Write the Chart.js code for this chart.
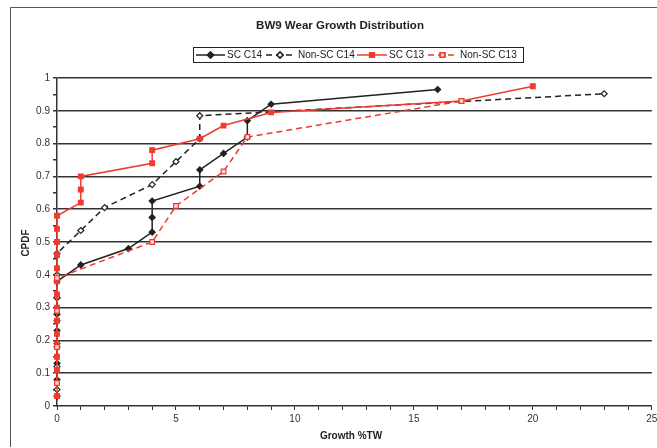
<!DOCTYPE html>
<html>
<head>
<meta charset="utf-8">
<script src="https://cdn.jsdelivr.net/npm/chart.js@4/dist/chart.umd.min.js"></script>
<style>
  html, body { margin: 0; padding: 0; background: #fff; }
  canvas { display: block; }
</style>
</head>
<body>
<canvas id="wearChart" width="657" height="448"></canvas>
<script>
// Datos (Growth %TW vs CPDF)
const scC14X = [0, 0, 0, 0, 0, 0, 0, 0, 1, 3, 4, 4, 4, 6, 6, 7, 8, 8, 9, 16];
const scC14Y = [0.03, 0.08, 0.13, 0.18, 0.23, 0.28, 0.33, 0.38, 0.43, 0.48, 0.53, 0.575, 0.625, 0.67, 0.72, 0.77, 0.82, 0.87, 0.92, 0.965];

const nonScC14X = [0, 0, 0, 0, 0, 0, 0, 1, 2, 4, 5, 6, 6, 23];
const nonScC14Y = [0.05, 0.12, 0.19, 0.26, 0.33, 0.40, 0.465, 0.535, 0.605, 0.675, 0.745, 0.815, 0.885, 0.952];

const scC13X = [0, 0, 0, 0, 0, 0, 0, 0, 0, 0, 0, 0, 0, 0, 0, 1, 1, 1, 4, 4, 6, 7, 9, 17, 20];
const scC13Y = [0.03, 0.07, 0.11, 0.15, 0.19, 0.22, 0.26, 0.30, 0.34, 0.38, 0.42, 0.46, 0.50, 0.54, 0.58, 0.62, 0.66, 0.70, 0.74, 0.78, 0.815, 0.855, 0.895, 0.93, 0.975];

const nonScC13X = [0, 0, 0, 0, 4, 5, 7, 8, 17];
const nonScC13Y = [0.07, 0.18, 0.29, 0.39, 0.50, 0.61, 0.715, 0.82, 0.93];

const titleText = "BW9 Wear Growth Distribution";
const xTitle = "Growth %TW";
const yTitle = "CPDF";

const BLACK = "#222222";
const RED = "#ef3b2f";
const FONT = "'Liberation Sans', Arial, sans-serif";

function toPoints(xs, ys) {
    return xs.map((x, i) => ({ x: x, y: ys[i] }));
}

const series = [
    { label: "SC C14", xs: scC14X, ys: scC14Y, color: BLACK, dash: [], style: "rectRot", radius: 3, fill: BLACK, order: 4 },
    { label: "Non-SC C14", xs: nonScC14X, ys: nonScC14Y, color: BLACK, dash: [6, 4], style: "rectRot", radius: 3, fill: "#ffffff", order: 3 },
    { label: "SC C13", xs: scC13X, ys: scC13Y, color: RED, dash: [], style: "rect", radius: 3.3, fill: RED, order: 2 },
    { label: "Non-SC C13", xs: nonScC13X, ys: nonScC13Y, color: RED, dash: [6, 4], style: "rect", radius: 3.3, fill: "#ffd6d2", order: 1 }
];

// Titulo, leyenda y etiquetas de ejes dibujados a mano
const decorPlugin = {
    id: "decor",
    afterDraw(chart) {
        const c = chart.ctx;
        c.save();

        // marco exterior
        c.strokeStyle = "#555";
        c.lineWidth = 1;
        c.beginPath();
        c.moveTo(10.5, 447);
        c.lineTo(10.5, 7.5);
        c.lineTo(657, 7.5);
        c.stroke();

        c.fillStyle = "#222";
        c.textAlign = "center";
        c.textBaseline = "middle";
        c.font = "bold 11.5px " + FONT;
        c.fillText(titleText, 340, 26);

        c.font = "bold 10px " + FONT;
        c.fillText(xTitle, 351, 436);
        c.save();
        c.translate(26, 243);
        c.rotate(-Math.PI / 2);
        c.fillText(yTitle, 0, 0);
        c.restore();

        // leyenda
        c.strokeStyle = "#222";
        c.lineWidth = 1;
        c.strokeRect(193.5, 47.5, 330, 15);
        const ly = 55;
        const items = [
            { s: series[0], x1: 196, x2: 225, tx: 227 },
            { s: series[1], x1: 266, x2: 294, tx: 298 },
            { s: series[2], x1: 357, x2: 387, tx: 389 },
            { s: series[3], x1: 428, x2: 457, tx: 460 }
        ];
        items.forEach(it => {
            c.strokeStyle = it.s.color;
            c.lineWidth = 1.5;
            c.setLineDash(it.s.dash);
            c.beginPath();
            c.moveTo(it.x1, ly);
            c.lineTo(it.x2, ly);
            c.stroke();
            c.setLineDash([]);
            Chart.helpers.drawPoint(c, {
                pointStyle: it.s.style,
                radius: it.s.radius,
                rotation: 0,
                borderWidth: 1.3
            }, (it.x1 + it.x2) / 2, ly);
            c.fillStyle = it.s.fill;
            c.strokeStyle = it.s.color;
            c.fill();
            c.stroke();
            c.fillStyle = "#222";
            c.textAlign = "left";
            c.font = "10px " + FONT;
            c.fillText(it.s.label, it.tx, ly + 0.5);
        });
        c.restore();
    }
};

new Chart(document.getElementById("wearChart"), {
    type: "scatter",
    data: {
        datasets: series.map(s => ({
            label: s.label,
            data: toPoints(s.xs, s.ys),
            showLine: true,
            borderColor: s.color,
            borderWidth: 1.5,
            borderDash: s.dash,
            pointStyle: s.style,
            pointRadius: s.radius,
            pointBackgroundColor: s.fill,
            pointBorderColor: s.color,
            pointBorderWidth: 1.2,
            order: s.order,
            clip: 8
        }))
    },
    options: {
        responsive: false,
        animation: false,
        layout: { padding: { top: 78, right: 0, left: 0, bottom: 0 } },
        plugins: {
            legend: { display: false },
            title: { display: false },
            tooltip: { enabled: false }
        },
        scales: {
            x: {
                type: "linear",
                min: 0,
                max: 25,
                ticks: {
                    stepSize: 1,
                    autoSkip: false,
                    maxRotation: 0,
                    color: "#333",
                    font: { family: FONT, size: 10 },
                    callback: v => (v % 5 === 0 ? String(v) : "")
                },
                grid: { drawOnChartArea: false, tickLength: 4, color: "#333", tickColor: "#333" },
                border: { color: "#333", width: 1.5 },
                afterFit: s => { s.height = 42; s.paddingRight = 3; }
            },
            y: {
                min: 0,
                max: 1,
                ticks: {
                    stepSize: 0.05,
                    autoSkip: false,
                    color: "#333",
                    font: { family: FONT, size: 10 },
                    callback: v => {
                        const r = Math.round(v * 100);
                        return r % 10 === 0 ? String(r / 100) : "";
                    }
                },
                grid: {
                    tickLength: 4,
                    tickColor: "#333",
                    lineWidth: 1.5,
                    color: ctx => {
                        const r = Math.round(ctx.tick.value * 100);
                        return (r % 10 === 0 && r > 0) ? "#333333" : "rgba(0,0,0,0)";
                    }
                },
                border: { color: "#333", width: 1.5 },
                afterFit: s => { s.width = 57; }
            }
        }
    },
    plugins: [decorPlugin]
});
</script>
</body>
</html>
